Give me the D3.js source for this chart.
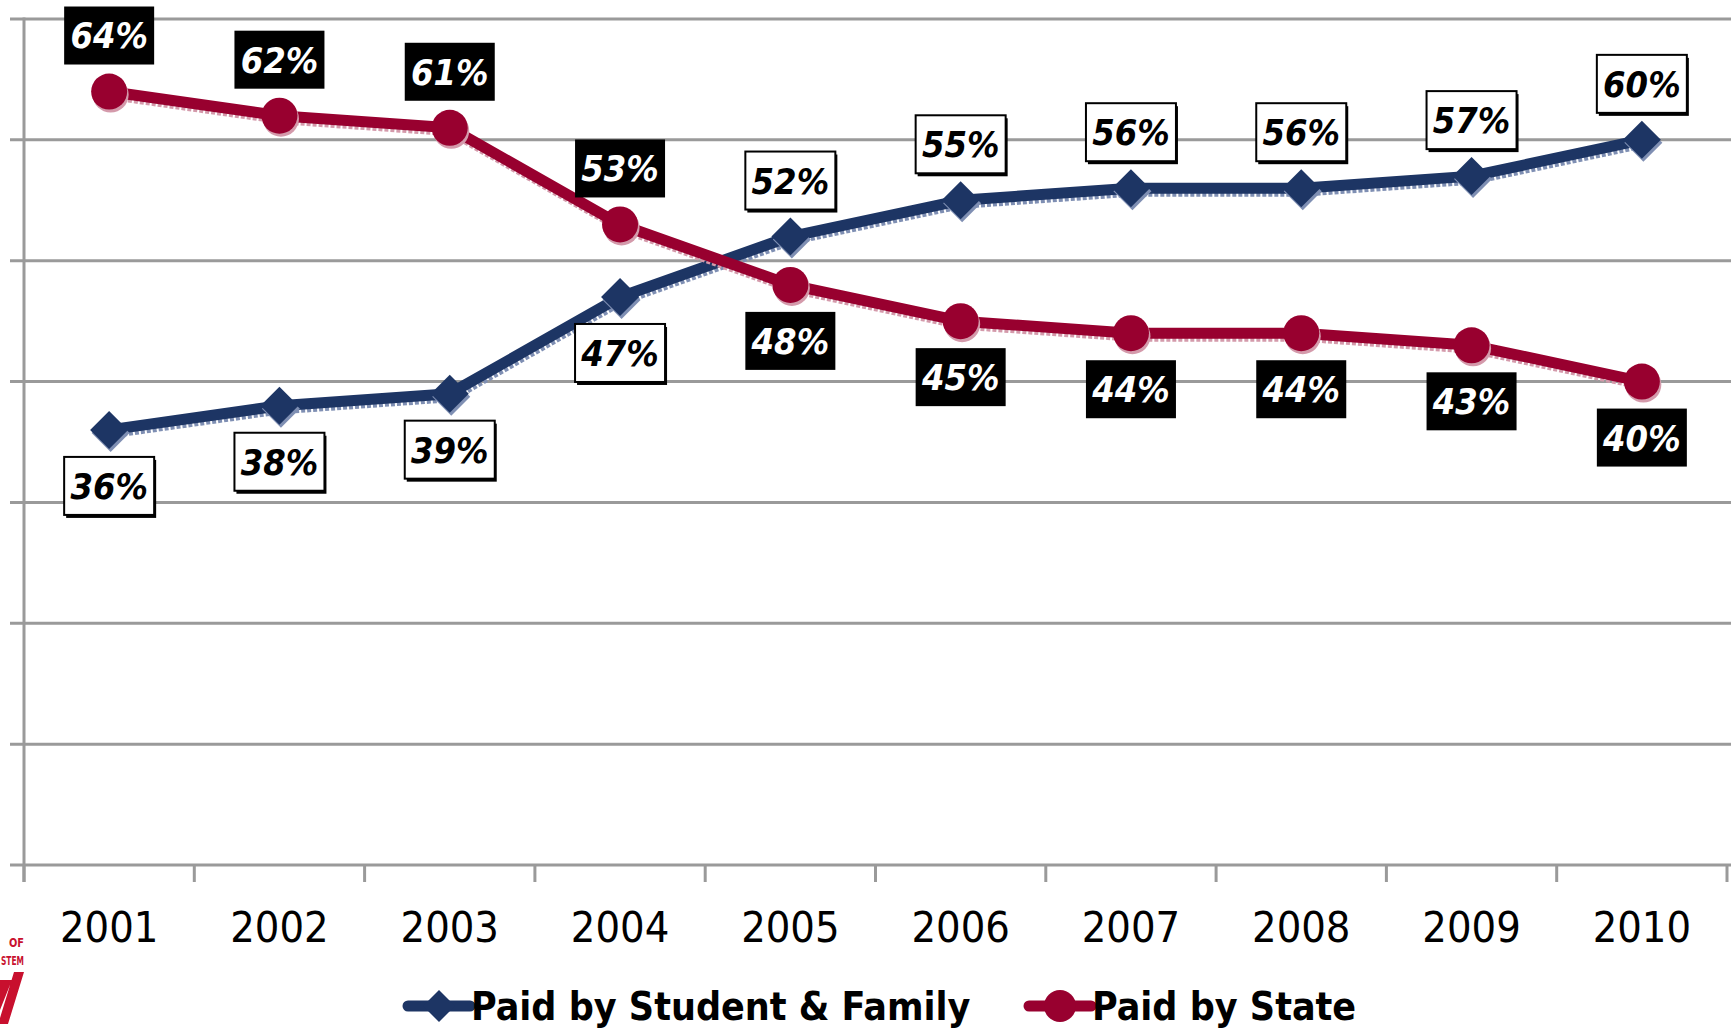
<!DOCTYPE html>
<html>
<head>
<meta charset="utf-8">
<script src="https://cdn.jsdelivr.net/npm/d3@7"></script>
<style>
	html, body { margin:0; padding:0; background:#fff; overflow:hidden; }
	svg { display:block; font-family:"DejaVu Sans Condensed","DejaVu Sans",sans-serif; }
</style>
</head>
<body>
<script>
//data (share of cost, %)
var years = ["2001","2002","2003","2004","2005","2006","2007","2008","2009","2010"];
var studentShare = [36, 38, 39, 47, 52, 55, 56, 56, 57, 60];
var stateShare = [64, 62, 61, 53, 48, 45, 44, 44, 43, 40];
var seriesNames = ["Paid by Student & Family", "Paid by State"];
var yTicks = [0, 10, 20, 30, 40, 50, 60, 70];

var width = 1731, height = 1031;
var blue = "#1d3564", red = "#98002f", grid = "#9a9a9a";

var svg = d3.select("body").append("svg")
	.attr("width", width)
	.attr("height", height);

var x = d3.scaleBand()
	.domain(years)
	.range([24, 1727])
	.padding(0);

var y = d3.scaleLinear()
	.domain([0, 70])
	.range([865, 19]);

function cx(i){ return x(years[i]) + x.bandwidth()/2; }

//gridlines (also act as the y ticks)
svg.append("g").selectAll("line")
	.data(yTicks).enter().append("line")
		.attr("x1", 10).attr("x2", width)
		.attr("y1", function(d){ return y(d); })
		.attr("y2", function(d){ return y(d); })
		.style("stroke", grid)
		.style("stroke-width", 3);

//y axis line
svg.append("line")
	.attr("x1", 24).attr("x2", 24)
	.attr("y1", y(70) - 1.5).attr("y2", 882)
	.style("stroke", grid).style("stroke-width", 3);

//x axis
var xAxis = d3.axisBottom(x).tickSize(0).tickPadding(0);
var gx = svg.append("g")
	.attr("transform", "translate(0," + y(0) + ")")
	.call(xAxis);
gx.select(".domain").remove();
gx.selectAll("text")
	.attr("y", 77)
	.attr("dy", 0)
	.style("font-size", "43px")
	.style("font-family", "'DejaVu Sans Condensed','DejaVu Sans',sans-serif")
	.style("fill", "#000");

//tick marks at band edges
var edges = years.map(function(d){ return x(d); }).concat([x.range()[1]]);
svg.append("g").selectAll("line")
	.data(edges).enter().append("line")
		.attr("x1", function(d){ return d; })
		.attr("x2", function(d){ return d; })
		.attr("y1", y(0)).attr("y2", 882)
		.style("stroke", grid).style("stroke-width", 3);

var line = d3.line()
	.x(function(d, i){ return cx(i); })
	.y(function(d){ return y(d); });

function diamond(s){
	return "M0," + (-s) + "L" + s + ",0L0," + s + "L" + (-s) + ",0Z";
}

function drawSeries(values, color, shadow, kind){
	var g = svg.append("g");
	//soft shadow under the line
	g.append("path")
		.attr("d", line(values))
		.attr("transform", "translate(1.5,3)")
		.style("fill", "none")
		.style("stroke", shadow)
		.style("stroke-width", 11)
		.style("stroke-dasharray", "4,2")
		.style("stroke-linejoin", "round");
	g.append("path")
		.attr("d", line(values))
		.style("fill", "none")
		.style("stroke", color)
		.style("stroke-width", 11)
		.style("stroke-linejoin", "round");

	var m = g.selectAll(".mark")
		.data(values).enter().append("g")
			.attr("class", "mark")
			.attr("transform", function(d, i){ return "translate(" + cx(i) + "," + y(d) + ")"; });
	if (kind == "circle"){
		m.append("circle").attr("r", 18).attr("cx", 1.5).attr("cy", 3).style("fill", shadow);
		m.append("circle").attr("r", 18).style("fill", color);
	} else {
		m.append("path").attr("d", diamond(19)).attr("transform", "translate(1.5,3)").style("fill", shadow);
		m.append("path").attr("d", diamond(19)).style("fill", color);
	}
}

drawSeries(studentShare, blue, "#7f8fb3", "diamond");
drawSeries(stateShare, red, "#d49aab", "circle");

//data labels: the higher series gets its label above, the other below
function drawLabels(values, other, dark){
	var g = svg.append("g").selectAll(".lab")
		.data(values).enter().append("g")
			.attr("class", "lab")
			.attr("transform", function(d, i){
				var off = d > other[i] ? -56 : 56;
				return "translate(" + cx(i) + "," + (y(d) + off) + ")";
			});
	var bw = 90, bh = 58;
	if (dark){
		g.append("rect")
			.attr("x", -bw/2).attr("y", -bh/2)
			.attr("width", bw).attr("height", bh)
			.style("fill", "#000");
	} else {
		g.append("rect")
			.attr("x", -bw/2 + 2).attr("y", -bh/2 + 3)
			.attr("width", bw).attr("height", bh)
			.style("fill", "#000");
		g.append("rect")
			.attr("x", -bw/2).attr("y", -bh/2)
			.attr("width", bw).attr("height", bh)
			.style("fill", "#fff")
			.style("stroke", "#000")
			.style("stroke-width", 2);
	}
	g.append("text")
		.attr("text-anchor", "middle")
		.attr("dy", "0.36em")
		.style("font-size", "36px")
		.style("font-weight", "bold")
		.style("font-style", "italic")
		.style("fill", dark ? "#fff" : "#000")
		.text(function(d){ return d + "%"; });
}

drawLabels(studentShare, stateShare, false);
drawLabels(stateShare, studentShare, true);

//legend
var legend = [
	{name: seriesNames[0], color: blue, kind: "diamond", x0: 408},
	{name: seriesNames[1], color: red, kind: "circle", x0: 1029}
];
var lg = svg.append("g").selectAll(".leg")
	.data(legend).enter().append("g")
		.attr("class", "leg")
		.attr("transform", function(d){ return "translate(" + d.x0 + ",1006)"; });
lg.append("line")
	.attr("x1", 0).attr("x2", 62)
	.style("stroke", function(d){ return d.color; })
	.style("stroke-width", 11)
	.style("stroke-linecap", "round");
lg.each(function(d){
	var s = d3.select(this);
	if (d.kind == "circle") s.append("circle").attr("cx", 31).attr("r", 16).style("fill", d.color);
	else s.append("path").attr("d", diamond(16)).attr("transform", "translate(31,0)").style("fill", d.color);
});
lg.append("text")
	.attr("x", 63)
	.attr("y", 14)
	.style("font-size", "39px")
	.style("font-weight", "bold")
	.style("fill", "#000")
	.text(function(d){ return d.name; });

//partial logo at bottom left
var logo = svg.append("g").style("fill", "#c8102e");
logo.append("text").attr("x", 24).attr("y", 947).attr("text-anchor", "end")
	.attr("textLength", 15).attr("lengthAdjust", "spacingAndGlyphs")
	.style("font-size", "13px").style("font-weight", "bold").text("OF");
logo.append("text").attr("x", 24).attr("y", 965).attr("text-anchor", "end")
	.attr("textLength", 23).attr("lengthAdjust", "spacingAndGlyphs")
	.style("font-size", "13px").style("font-weight", "bold").text("STEM");
logo.append("path")
	.attr("d", "M0,980L12,980L0,1010Z M14,972L24,972L8,1024L0,1024L0,1018Z");
</script>
</body>
</html>
